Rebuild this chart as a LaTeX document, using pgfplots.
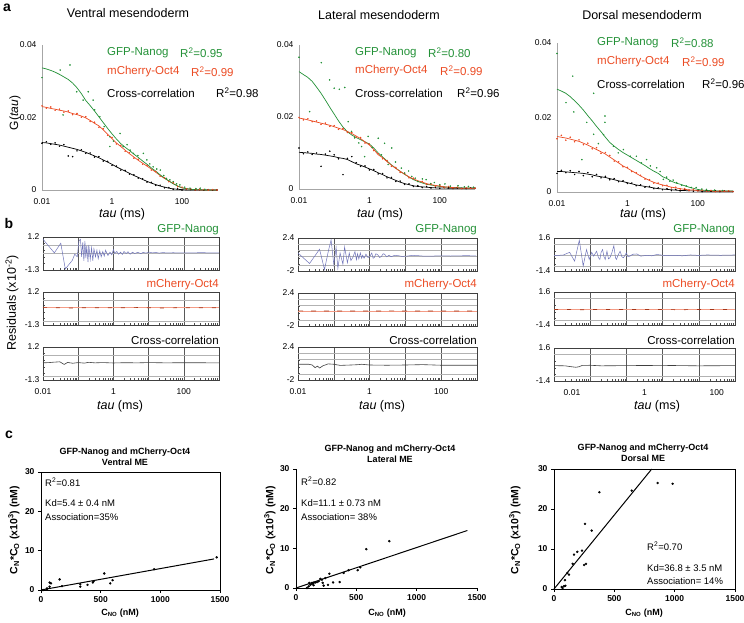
\documentclass[border=0pt]{standalone}
\usepackage{fontspec}
\setmainfont{Liberation Sans}
\usepackage{pgfplots}
\usepackage{pgfplotstable}
\pgfplotsset{compat=1.18}
\definecolor{cgreen}{RGB}{35,145,55}
\definecolor{cred}{RGB}{235,75,35}
\definecolor{cres}{RGB}{110,115,185}

\pgfplotstableread{
t gc rc rs bc bs
0.01 .0337 .0230 .0232 .0131 .0129
0.0133 .0334 .0228 .0226 .0130 .0133
0.0178 .0330 .0225 .0229 .0128 .0126
0.0237 .0325 .0223 .0220 .0126 .0130
0.0316 .0319 .0220 .0223 .0124 .0121
0.0422 .0312 .0218 .0215 .0121 .0125
0.0562 .0305 .0215 .0218 .0118 .0094
0.075 .0295 .0211 .0208 .0115 .0092
0.1 .0282 .0208 .0211 .0112 .0108
0.133 .0266 .0204 .0201 .0108 .0111
0.178 .0247 .0199 .0202 .0104 .0101
0.237 .0233 .0192 .0189 .0099 .0102
0.316 .0218 .0184 .0187 .0094 .0091
0.422 .0202 .0177 .0173 .0089 .0092
0.562 .0186 .0166 .0169 .0083 .0080
0.75 .0170 .0154 .0151 .0077 .0079
1 .0155 .0142 .0145 .0071 .0068
1.33 .0141 .0130 .0127 .0064 .0066
1.78 .0128 .0120 .0123 .0058 .0055
2.37 .0118 .0110 .0107 .0052 .0054
3.16 .0109 .0100 .0103 .0046 .0044
4.22 .0099 .0091 .0088 .0040 .0042
5.62 .0090 .0082 .0085 .0035 .0033
7.5 .0080 .0074 .0071 .0029 .0031
10 .0071 .0066 .0068 .0024 .0022
13.3 .0061 .0058 .0055 .0019 .0021
17.8 .0052 .0049 .0051 .0015 .0013
23.7 .0042 .0040 .0038 .0011 .0013
31.6 .0033 .0032 .0034 .0008 .0006
42.2 .0025 .0025 .0023 .0005 .0007
56.2 .0017 .0018 .0020 .0003 .0002
75 .0011 .0011 .0009 .0002 .0003
100 .0006 .0006 .0008 .0001 .0000
133 .0004 .0004 .0003 .0000 .0002
178 .0002 .0002 .0003 .0000 .0001
237 .0001 .0001 .0000 .0000 .0000
316 .0001 .0000 .0002 .0000 .0001
422 .0000 .0000 .0001 .0000 .0000
562 .0000 .0000 .0000 .0000 .0001
750 .0000 .0000 .0001 .0000 .0000
1000 .0000 .0000 .0000 .0000 .0000
}\pa

\pgfplotstableread{
t gc rc rs bc bs
0.01 .0326 .0197 .0199 .0102 .0114
0.0133 .0318 .0195 .0192 .0101 .0098
0.0178 .0310 .0192 .0195 .0100 .0103
0.0237 .0299 .0189 .0187 .0099 .0096
0.0316 .0283 .0186 .0189 .0097 .0100
0.0422 .0266 .0183 .0180 .0096 .0063
0.0562 .0247 .0180 .0183 .0094 .0097
0.075 .0227 .0177 .0174 .0092 .0105
0.1 .0208 .0173 .0176 .0090 .0095
0.133 .0189 .0169 .0166 .0087 .0084
0.178 .0172 .0165 .0168 .0085 .0040
0.237 .0159 .0160 .0157 .0082 .0085
0.316 .0150 .0154 .0157 .0076 .0090
0.422 .0143 .0147 .0144 .0070 .0073
0.562 .0137 .0140 .0143 .0066 .0063
0.75 .0131 .0131 .0128 .0061 .0064
1 .0125 .0122 .0125 .0056 .0053
1.33 .0114 .0110 .0107 .0051 .0054
1.78 .0100 .0095 .0098 .0045 .0042
2.37 .0089 .0087 .0084 .0040 .0043
3.16 .0078 .0076 .0079 .0034 .0031
4.22 .0067 .0066 .0063 .0029 .0032
5.62 .0058 .0057 .0060 .0024 .0021
7.5 .0049 .0049 .0046 .0019 .0022
10 .0041 .0041 .0044 .0015 .0013
13.3 .0033 .0034 .0031 .0012 .0014
17.8 .0026 .0028 .0030 .0009 .0007
23.7 .0021 .0023 .0021 .0007 .0009
31.6 .0017 .0019 .0021 .0006 .0004
42.2 .0013 .0015 .0013 .0005 .0007
56.2 .0011 .0012 .0014 .0004 .0003
75 .0009 .0010 .0008 .0003 .0005
100 .0007 .0008 .0010 .0003 .0002
133 .0006 .0006 .0004 .0003 .0004
178 .0005 .0005 .0007 .0002 .0003
237 .0004 .0004 .0003 .0002 .0001
316 .0004 .0003 .0005 .0002 .0003
422 .0003 .0002 .0001 .0002 .0002
562 .0003 .0002 .0003 .0002 .0001
750 .0003 .0002 .0002 .0002 .0003
1000 .0003 .0002 .0002 .0002 .0002
}\pb

\pgfplotstableread{
t gc rc rs bc bs
0.01 .0276 .0149 .0143 .0055 .0050
0.0133 .0271 .0147 .0152 .0055 .0058
0.0178 .0265 .0145 .0139 .0054 .0052
0.0237 .0256 .0142 .0147 .0053 .0057
0.0316 .0245 .0139 .0135 .0052 .0047
0.0422 .0233 .0136 .0140 .0051 .0055
0.0562 .0220 .0131 .0127 .0050 .0044
0.075 .0205 .0126 .0131 .0048 .0052
0.1 .0191 .0120 .0116 .0046 .0041
0.133 .0176 .0114 .0119 .0043 .0047
0.178 .0162 .0108 .0104 .0041 .0038
0.237 .0147 .0102 .0106 .0039 .0042
0.316 .0133 .0094 .0098 .0036 .0033
0.422 .0123 .0086 .0083 .0033 .0036
0.562 .0114 .0078 .0081 .0030 .0028
0.75 .0106 .0070 .0068 .0028 .0030
1 .0099 .0064 .0066 .0025 .0023
1.33 .0092 .0057 .0055 .0022 .0024
1.78 .0085 .0050 .0052 .0019 .0017
2.37 .0078 .0043 .0045 .0017 .0019
3.16 .0071 .0037 .0035 .0015 .0013
4.22 .0063 .0031 .0033 .0013 .0015
5.62 .0056 .0026 .0024 .0011 .0009
7.5 .0050 .0022 .0024 .0009 .0011
10 .0041 .0019 .0017 .0008 .0006
13.3 .0036 .0016 .0018 .0007 .0009
17.8 .0029 .0013 .0011 .0006 .0004
23.7 .0024 .0011 .0013 .0005 .0007
31.6 .0021 .0009 .0008 .0004 .0003
42.2 .0017 .0007 .0009 .0004 .0005
56.2 .0013 .0006 .0004 .0003 .0004
75 .0010 .0005 .0007 .0003 .0002
100 .0007 .0004 .0003 .0003 .0004
133 .0005 .0003 .0005 .0002 .0001
178 .0004 .0003 .0002 .0002 .0003
237 .0004 .0002 .0004 .0002 .0002
316 .0003 .0002 .0001 .0002 .0003
422 .0003 .0002 .0003 .0002 .0001
562 .0003 .0002 .0002 .0002 .0003
750 .0003 .0002 .0003 .0002 .0002
1000 .0003 .0002 .0001 .0002 .0001
}\pc

\pgfplotsset{
  mynoarrow/.style={axis line style={-},
    every outer x axis line/.append style={-}, every outer y axis line/.append style={-},
    every inner x axis line/.append style={-}, every inner y axis line/.append style={-}},
  myfcs/.style={scale only axis, width=175pt, height=145pt, anchor=south west,
    xmin=0.01, xmax=1000, ymin=0, ymax=0.04,
    axis x line=bottom, axis y line=left, mynoarrow,
    axis line style={draw=black!35, line width=0.6pt},
    xtick={0.01,1,100}, xticklabels={0.01,1,100},
    ytick={0,0.02,0.04}, yticklabels={0,0.02,0.04},
    scaled y ticks=false, scaled x ticks=false,
    major tick length=0pt, minor tick length=0pt,
    tick label style={font=\fontsize{8.5}{10}\selectfont},
    xticklabel style={yshift=-5pt}, yticklabel style={xshift=-2pt},
    clip=false},
  myres/.style={scale only axis, width=176pt, height=33pt, anchor=south west,
    xmin=0.01, xmax=1000,
    axis line style={line width=0.5pt, black!75},
    xtick={0.01,0.1,1,10,100,1000}, xticklabels={},
    minor xtick={0.02,0.03,0.04,0.05,0.06,0.07,0.08,0.09,0.2,0.3,0.4,0.5,0.6,0.7,0.8,0.9,2,3,4,5,6,7,8,9,20,30,40,50,60,70,80,90,200,300,400,500,600,700,800,900},
    xmajorgrids, major grid style={black!65, line width=0.6pt},
    tick pos=left, tick align=inside,
    major tick length=0pt, minor tick length=2pt,
    minor y tick num=4,
    every tick/.style={black!70, line width=0.4pt},
    tick label style={font=\fontsize{8.5}{10}\selectfont},
    xticklabel style={yshift=-5pt},
    extra y tick labels={},
    extra y tick style={grid=major, major grid style={black!30, line width=0.5pt}},
  },
  mysc/.style={scale only axis, anchor=south west, xmin=0, xmax=1500, ymin=0, ymax=30,
    xtick={0,500,1000,1500}, xticklabels={0,500,1000,1500},
    ytick={0,10,20,30}, yticklabels={0,10,20,30},
    tick align=outside, tick pos=left, major tick length=3pt,
    every tick/.style={black, line width=0.9pt},
    axis line style={line width=0.9pt},
    tick label style={font=\bfseries\fontsize{8.5}{10}\selectfont},
    minor tick num=0, clip=false},
}
\newcommand{\lgf}{\fontsize{11.5}{13}\selectfont}
\newcommand{\ttlf}{\fontsize{12.5}{14}\selectfont}
\newcommand{\csf}{\fontsize{9}{10.5}\selectfont}

\begin{document}
\begin{tikzpicture}
\path[use as bounding box] (0pt,0pt) rectangle (744pt,-622pt);

% ---------- panel a ----------
\begin{axis}[xmode=log, myfcs, at={(42pt,-190pt)}]
\addplot[only marks, mark=*, mark size=0.55pt, black] table[x=t,y=bs]{\pa};
\addplot[only marks, mark=*, mark size=0.55pt, cred] table[x=t,y=rs]{\pa};
\addplot[only marks, mark=*, mark size=0.55pt, cgreen] coordinates {
(0.01,0.031) (0.033,0.0331) (0.063,0.0345) (0.04,0.0207) (0.098,0.0271) (0.15,0.0248) (0.21,0.0271) (0.29,0.0248) (0.32,0.0221) (0.45,0.0202) (0.6,0.0175) (0.87,0.0147) (0.87,0.012) (1.1,0.0135) (1.7,0.0156) (2.1,0.012) (2.7,0.0125) (3.3,0.011) (4.1,0.0101) (5.5,0.0095) (7.9,0.0101) (9.9,0.0083) (12,0.0072) (15,0.0064) (19,0.0058) (24,0.0055) (30,0.004) (36,0.0032) (45,0.0028) (56,0.0023) (70,0.0017) (87,0.0014) (120,0.0008) (170,0.0005) (250,0.0004) (330,0.0005) (450,0.0002)};
\addplot[black, line width=0.7pt] table[x=t,y=bc]{\pa};
\addplot[cred, line width=0.7pt] table[x=t,y=rc]{\pa};
\addplot[cgreen, line width=0.7pt] table[x=t,y=gc]{\pa};
\end{axis}

\begin{axis}[xmode=log, myfcs, at={(299pt,-189pt)}, height=144pt, width=176pt]
\addplot[only marks, mark=*, mark size=0.55pt, black] table[x=t,y=bs]{\pb};
\addplot[only marks, mark=*, mark size=0.55pt, cred] table[x=t,y=rs]{\pb};
\addplot[only marks, mark=*, mark size=0.55pt, cgreen] coordinates {
(0.01,0.0366) (0.043,0.0351) (0.074,0.0303) (0.1,0.028) (0.14,0.0277) (0.2,0.0282) (0.02,0.0215) (0.25,0.0187) (0.31,0.016) (0.38,0.0142) (0.5,0.0128) (0.6,0.0118) (0.73,0.009) (0.92,0.0146) (1.2,0.0115) (1.78,0.0141) (2.2,0.0095) (2.7,0.0127) (3.4,0.0068) (4.3,0.0114) (5.5,0.0075) (8.1,0.0058) (10,0.0044) (13,0.005) (16,0.0035) (20,0.003) (24,0.0021) (32,0.0028) (41,0.0026) (55,0.0015) (70,0.0018) (100,0.0012) (140,0.0014) (200,0.0008) (330,0.0009) (500,0.0006) (650,0.0007) (900,0.0005)};
\addplot[black, line width=0.7pt] table[x=t,y=bc]{\pb};
\addplot[cgreen, line width=0.7pt] table[x=t,y=gc]{\pb};
\addplot[cred, line width=0.7pt] table[x=t,y=rc]{\pb};
\end{axis}

\begin{axis}[xmode=log, myfcs, at={(557pt,-192pt)}, height=149pt, width=176pt]
\addplot[only marks, mark=*, mark size=0.55pt, black] table[x=t,y=bs]{\pc};
\addplot[only marks, mark=*, mark size=0.55pt, cred] table[x=t,y=rs]{\pc};
\addplot[only marks, mark=*, mark size=0.55pt, cgreen] coordinates {
(0.01,0.0372) (0.028,0.0311) (0.11,0.0265) (0.07,0.0187) (0.11,0.0155) (0.23,0.0204) (0.23,0.0187) (0.21,0.0154) (0.051,0.0087) (0.03,0.0215) (0.018,0.024) (0.15,0.013) (0.4,0.0123) (0.55,0.0105) (0.77,0.0114) (1.2,0.0096) (1.8,0.0096) (2.5,0.0078) (3.5,0.0087) (4.5,0.007) (6.8,0.0065) (8.5,0.0055) (10.5,0.0034) (13,0.004) (16,0.0029) (20,0.0032) (25,0.0025) (35,0.0018) (47,0.0016) (65,0.0012) (90,0.0012) (130,0.0008) (176,0.0007) (300,0.0005) (500,0.0004)};
\addplot[black, line width=0.7pt] table[x=t,y=bc]{\pc};
\addplot[cred, line width=0.7pt] table[x=t,y=rc]{\pc};
\addplot[cgreen, line width=0.7pt] table[x=t,y=gc]{\pc};
\end{axis}

\node[font=\bfseries\fontsize{14}{16}\selectfont, inner sep=0, anchor=north] at (7pt,-4pt) {a};
\node[font=\ttlf, inner sep=0] at (128pt,-13pt) {Ventral mesendoderm};
\node[font=\ttlf, inner sep=0] at (379pt,-15pt) {Lateral mesendoderm};
\node[font=\ttlf, inner sep=0] at (642pt,-15pt) {Dorsal mesendoderm};
\node[font=\fontsize{12}{14}\selectfont, inner sep=0, rotate=90] at (15pt,-113pt) {G(\textit{tau})};

\node[font=\lgf, text=cgreen, anchor=west, inner sep=0] at (107pt,-53pt) {GFP-Nanog};
\node[font=\lgf, text=cgreen, anchor=west, inner sep=0] at (180pt,-53pt) {R\textsuperscript{2}=0.95};
\node[font=\lgf, text=cred, anchor=west, inner sep=0] at (107pt,-72pt) {mCherry-Oct4};
\node[font=\lgf, text=cred, anchor=west, inner sep=0] at (191pt,-72pt) {R\textsuperscript{2}=0.99};
\node[font=\lgf, anchor=west, inner sep=0] at (107pt,-93pt) {Cross-correlation};
\node[font=\lgf, anchor=west, inner sep=0] at (216pt,-93pt) {R\textsuperscript{2}=0.98};

\node[font=\lgf, text=cgreen, anchor=west, inner sep=0] at (355pt,-53pt) {GFP-Nanog};
\node[font=\lgf, text=cgreen, anchor=west, inner sep=0] at (428pt,-53pt) {R\textsuperscript{2}=0.80};
\node[font=\lgf, text=cred, anchor=west, inner sep=0] at (355pt,-71pt) {mCherry-Oct4};
\node[font=\lgf, text=cred, anchor=west, inner sep=0] at (440pt,-71pt) {R\textsuperscript{2}=0.99};
\node[font=\lgf, anchor=west, inner sep=0] at (355pt,-93pt) {Cross-correlation};
\node[font=\lgf, anchor=west, inner sep=0] at (457pt,-93pt) {R\textsuperscript{2}=0.96};

\node[font=\lgf, text=cgreen, anchor=west, inner sep=0] at (597pt,-43pt) {GFP-Nanog};
\node[font=\lgf, text=cgreen, anchor=west, inner sep=0] at (671pt,-43pt) {R\textsuperscript{2}=0.88};
\node[font=\lgf, text=cred, anchor=west, inner sep=0] at (597pt,-62pt) {mCherry-Oct4};
\node[font=\lgf, text=cred, anchor=west, inner sep=0] at (682pt,-62pt) {R\textsuperscript{2}=0.99};
\node[font=\lgf, anchor=west, inner sep=0] at (597pt,-84pt) {Cross-correlation};
\node[font=\lgf, anchor=west, inner sep=0] at (702pt,-84pt) {R\textsuperscript{2}=0.96};

\node[font=\ttlf, inner sep=0] at (122pt,-214pt) {\textit{tau} (ms)};
\node[font=\ttlf, inner sep=0] at (380pt,-214pt) {\textit{tau} (ms)};
\node[font=\ttlf, inner sep=0] at (643pt,-214pt) {\textit{tau} (ms)};

% ---------- panel b ----------
\begin{axis}[xmode=log, myres, at={(43pt,-270pt)}, ymin=-1.3, ymax=1.2, ytick={-1.3,1.2}, yticklabels={-1.3,1.2}, extra y ticks={0,0.6}]
\addplot[cres, line width=0.5pt] coordinates {
(0.01,1.03) (0.021,0.0) (0.032,0.73) (0.043,-1.22) (0.055,-0.87) (0.068,-0.57) (0.08,-0.1) (0.094,-0.29) (0.105,0.9) (0.116,1.03) (0.125,-0.3) (0.135,0.8) (0.145,-0.6) (0.155,0.9) (0.165,-0.4) (0.175,0.5) (0.19,-0.7) (0.2,0.6) (0.22,-0.5) (0.24,0.4) (0.26,-0.6) (0.28,0.3) (0.31,-0.3) (0.34,0.2) (0.37,-0.45) (0.41,0.15) (0.45,-0.3) (0.5,0.1) (0.55,-0.25) (0.6,0.2) (0.7,-0.2) (0.8,0.05) (0.9,-0.15) (1,0.25) (1.1,-0.05) (1.25,0.1) (1.4,-0.1) (1.6,0.05) (1.8,-0.12) (2,0.1) (2.3,-0.05) (2.6,0.08) (3,-0.1) (3.5,0.05) (4,-0.05) (5,0.04) (6,-0.06) (7,0.03) (8.5,-0.02) (10,0.06) (13,0) (16,0.03) (20,-0.02) (25,0.02) (35,-0.01) (50,0.01) (80,-0.01) (130,0) (300,0.01) (1000,0)};
\end{axis}
\begin{axis}[xmode=log, myres, at={(43pt,-325pt)}, ymin=-1.3, ymax=1.2, ytick={-1.3,1.2}, yticklabels={-1.3,1.2}, extra y ticks={0.6,-1}]
\addplot[cred!55, line width=0.7pt] coordinates {(0.01,0) (1000,0)};
\addplot[cred!70!black, line width=0.7pt, dash pattern=on 4pt off 9pt] coordinates {(0.01,0.02) (0.05,-0.01) (0.2,0.01) (1,0) (5,0.02) (30,-0.01) (100,0.01) (1000,0)};
\end{axis}
\begin{axis}[xmode=log, myres, at={(43pt,-380pt)}, ymin=-1.3, ymax=1.2, ytick={-1.3,1.2}, yticklabels={-1.3,1.2}, extra y ticks={0.6,-1}, xticklabels={0.01,,1,,100,}]
\addplot[black!75, line width=0.6pt] coordinates {(0.01,0) (0.015,0.02) (0.02,0.05) (0.03,0.08) (0.04,-0.12) (0.05,0.03) (0.07,-0.03) (0.1,0.02) (0.15,-0.02) (0.2,0.04) (0.3,0) (0.5,0.02) (1,-0.01) (2,0.01) (5,0) (10,0.02) (30,0) (100,0.01) (1000,0)};
\end{axis}

\begin{axis}[xmode=log, myres, at={(298pt,-271pt)}, width=179pt, ymin=-2, ymax=2.4, ytick={-2,2.4}, yticklabels={-2,2.4}, extra y ticks={-1.2,0,0.8,1.6}]
\addplot[cres, line width=0.5pt] coordinates {
(0.01,0.4) (0.021,-1.0) (0.04,0.9) (0.055,-1.8) (0.07,0.6) (0.084,2.15) (0.1,-1.15) (0.116,1.15) (0.13,-1.65) (0.15,0.4) (0.18,-1.1) (0.2,1.2) (0.24,-0.9) (0.27,0.4) (0.3,-0.6) (0.34,-0.2) (0.39,0.6) (0.43,-0.5) (0.46,0.3) (0.5,-0.4) (0.55,0.4) (0.6,-0.3) (0.64,0.1) (0.7,-0.3) (0.79,0.25) (0.9,-0.2) (1.0,-0.1) (1.15,0.4) (1.25,-0.3) (1.35,-0.2) (1.5,0.3) (1.7,0.15) (1.9,-0.2) (2.1,-0.1) (2.4,0.3) (2.6,0.25) (3,-0.1) (3.5,0.1) (4.0,-0.1) (5,0.1) (6.2,0.05) (8,-0.05) (11.6,0) (15,0.08) (22,0.05) (35,-0.03) (63,0) (100,0.03) (180,0) (300,0.02) (520,0.05) (950,0)};
\end{axis}
\begin{axis}[xmode=log, myres, at={(298pt,-326pt)}, width=179pt, ymin=-2, ymax=2.4, ytick={-2,2.4}, yticklabels={-2,2.4}, extra y ticks={-1.2,0.8,1.6}]
\addplot[cred!55, line width=0.7pt] coordinates {(0.01,0) (1000,0)};
\addplot[cred!70!black, line width=0.7pt, dash pattern=on 5pt off 8pt] coordinates {(0.01,0.02) (0.05,-0.01) (0.2,0.01) (1,0) (5,0.02) (30,-0.01) (100,0.01) (1000,0)};
\end{axis}
\begin{axis}[xmode=log, myres, at={(298pt,-380pt)}, width=179pt, ymin=-2, ymax=2.4, ytick={-2,2.4}, yticklabels={-2,2.4}, extra y ticks={-1.2,0.8,1.6}, xticklabels={0.01,,1,,100,}]
\addplot[black!75, line width=0.6pt] coordinates {(0.01,0.1) (0.02,0.1) (0.025,0) (0.03,-0.35) (0.035,-0.15) (0.04,-0.4) (0.05,-0.1) (0.07,0.15) (0.1,0.1) (0.15,-0.05) (0.3,0) (0.5,0.05) (0.6,0.1) (1,0) (3,-0.03) (10,0) (30,0.05) (100,-0.03) (1000,-0.03)};
\end{axis}

\begin{axis}[xmode=log, myres, at={(554pt,-271pt)}, width=181pt, ymin=-1.4, ymax=1.6, ytick={-1.4,1.6}, yticklabels={-1.4,1.6}, extra y ticks={-1,0,1}]
\addplot[cres, line width=0.5pt] coordinates {
(0.01,0) (0.018,0.05) (0.027,0.3) (0.037,-0.5) (0.05,1.4) (0.064,-0.95) (0.079,0.55) (0.094,-0.35) (0.11,0.3) (0.125,-0.05) (0.15,0.4) (0.17,-0.2) (0.185,-0.35) (0.2,0.3) (0.22,0.55) (0.24,-0.1) (0.26,-0.35) (0.29,0.4) (0.32,-0.3) (0.35,-0.2) (0.4,0.3) (0.45,0.9) (0.5,-0.2) (0.53,-0.35) (0.6,0.1) (0.67,0.4) (0.75,-0.1) (0.83,-0.2) (1.0,0.25) (1.1,-0.1) (1.25,-0.05) (1.5,0.12) (1.95,0.15) (2.5,-0.05) (3.7,0.03) (5,-0.02) (7,0.1) (12,0) (20,0.03) (35,-0.02) (58,0.06) (100,0.02) (170,0.06) (400,0.03) (1000,0.06)};
\end{axis}
\begin{axis}[xmode=log, myres, at={(554pt,-325pt)}, width=181pt, ymin=-1.4, ymax=1.6, ytick={-1.4,1.6}, yticklabels={-1.4,1.6}, extra y ticks={-1,1}]
\addplot[cred!55, line width=0.7pt] coordinates {(0.01,0) (1000,0)};
\addplot[cred!70!black, line width=0.7pt, dash pattern=on 4pt off 9pt] coordinates {(0.01,0.02) (0.05,-0.01) (0.2,0.01) (1,0) (5,0.02) (30,-0.01) (100,0.01) (1000,0)};
\end{axis}
\begin{axis}[xmode=log, myres, at={(554pt,-381pt)}, width=181pt, ymin=-1.4, ymax=1.6, ytick={-1.4,1.6}, yticklabels={-1.4,1.6}, extra y ticks={-1,1}, xticklabels={0.01,,1,,100,}, xticklabel style={xshift=18pt}]
\addplot[black!75, line width=0.6pt] coordinates {(0.01,0) (0.02,-0.02) (0.03,-0.1) (0.04,-0.15) (0.05,-0.1) (0.06,0.02) (0.1,0.03) (0.2,-0.02) (1,0) (10,0.02) (100,-0.02) (1000,0)};
\end{axis}

\node[font=\bfseries\fontsize{14}{16}\selectfont, inner sep=0] at (9pt,-223pt) {b};
\node[font=\fontsize{12.5}{14}\selectfont, inner sep=0, rotate=90] at (12pt,-303pt) {Residuals (x10\textsuperscript{-2})};
\foreach \xr in {219,477,735} {
  \node[font=\lgf, text=cgreen, anchor=east, inner sep=0] at (\xr pt,-230pt) {GFP-Nanog};
  \node[font=\lgf, text=cred, anchor=east, inner sep=0] at (\xr pt,-285pt) {mCherry-Oct4};
  \node[font=\lgf, anchor=east, inner sep=0] at (\xr pt,-340pt) {Cross-correlation};
}
\node[font=\ttlf, inner sep=0] at (120pt,-406pt) {\textit{tau} (ms)};
\node[font=\ttlf, inner sep=0] at (382pt,-406pt) {\textit{tau} (ms)};
\node[font=\ttlf, inner sep=0] at (657pt,-406pt) {\textit{tau} (ms)};

% ---------- panel c ----------
\begin{axis}[mysc, at={(41pt,-590pt)}, width=179pt, height=118pt]
\addplot[only marks, mark=*, mark size=1pt, black] coordinates {
(17,0.0) (50,0.2) (50,0.4) (72,0.85) (73,1.9) (84,1.7) (156,2.7) (176,1.0) (329,1.5) (329,0.85) (390,1.3) (435,1.9) (440,2.2) (530,4.2) (580,1.7) (600,2.5) (948,5.3) (1472,8.3)};
\addplot[black, line width=1pt] coordinates {(0,0) (1450,7.9)};
\end{axis}
\begin{axis}[mysc, at={(296pt,-588pt)}, width=181pt, height=119pt, axis x line*=bottom, axis y line*=left, mynoarrow]
\addplot[only marks, mark=*, mark size=1pt, black] coordinates {
(91,0) (105,0.4) (110,1.3) (119,0.8) (133,1.3) (133,1.0) (146,1.3) (146,0.7) (160,1.4) (174,1.5) (188,1.7) (202,2.3) (215,2.1) (221,1.3) (229,0.6) (243,2.5) (265,0.8) (276,3.6) (307,1.4) (362,1.5) (395,3.8) (436,4.5) (511,4.5) (533,5.2) (583,9.8) (773,11.8)};
\addplot[black, line width=1pt] coordinates {(0,0) (1420,14.5)};
\end{axis}
\begin{axis}[mysc, at={(554pt,-589pt)}, width=181pt, height=120pt]
\addplot[only marks, mark=*, mark size=1pt, black] coordinates {
(64,0.5) (72,0.25) (83,0.7) (94,0.8) (91,2.2) (110,4.0) (124,3.6) (155,6.3) (166,8.6) (193,9.3) (232,9.6) (249,6.0) (265,6.3) (257,16.3) (312,14.6) (376,24.2) (644,24.6) (859,26.5) (983,26.3)};
\addplot[black, line width=1pt] coordinates {(0,0) (810,30)};
\end{axis}

\node[font=\bfseries\fontsize{14}{16}\selectfont, inner sep=0] at (9pt,-435pt) {c};
\node[font=\bfseries\csf, align=center, inner sep=0] at (125pt,-457pt) {GFP-Nanog and mCherry-Oct4\\Ventral ME};
\node[font=\bfseries\csf, align=center, inner sep=0] at (390pt,-454pt) {GFP-Nanog and mCherry-Oct4\\Lateral ME};
\node[font=\bfseries\csf, align=center, inner sep=0] at (643pt,-453pt) {GFP-Nanog and mCherry-Oct4\\Dorsal ME};
\foreach \xl in {14,270,515} {
  \node[font=\bfseries\fontsize{10.5}{12}\selectfont, rotate=90, inner sep=0] at (\xl pt,-530pt) {C\textsubscript{N}*C\textsubscript{O} (x10\textsuperscript{3}) (nM)};
}
\node[font=\bfseries\csf, inner sep=0] at (120pt,-613pt) {C\textsubscript{NO} (nM)};
\node[font=\bfseries\csf, inner sep=0] at (387pt,-613pt) {C\textsubscript{NO} (nM)};
\node[font=\bfseries\csf, inner sep=0] at (644pt,-613pt) {C\textsubscript{NO} (nM)};

\node[font=\fontsize{9.5}{11}\selectfont, anchor=west, inner sep=0] at (45pt,-482pt) {R\textsuperscript{2}=0.81};
\node[font=\fontsize{9.5}{11}\selectfont, anchor=west, inner sep=0] at (45pt,-503pt) {Kd=5.4 ± 0.4 nM};
\node[font=\fontsize{9.5}{11}\selectfont, anchor=west, inner sep=0] at (45pt,-517pt) {Association=35\%};
\node[font=\fontsize{9.5}{11}\selectfont, anchor=west, inner sep=0] at (301pt,-481pt) {R\textsuperscript{2}=0.82};
\node[font=\fontsize{9.5}{11}\selectfont, anchor=west, inner sep=0] at (301pt,-503pt) {Kd=11.1 ± 0.73 nM};
\node[font=\fontsize{9.5}{11}\selectfont, anchor=west, inner sep=0] at (301pt,-517pt) {Association= 38\%};
\node[font=\fontsize{9.5}{11}\selectfont, anchor=west, inner sep=0] at (647pt,-546pt) {R\textsuperscript{2}=0.70};
\node[font=\fontsize{9.5}{11}\selectfont, anchor=west, inner sep=0] at (647pt,-568pt) {Kd=36.8 ± 3.5 nM};
\node[font=\fontsize{9.5}{11}\selectfont, anchor=west, inner sep=0] at (647pt,-581pt) {Association= 14\%};
\end{tikzpicture}
\end{document}
